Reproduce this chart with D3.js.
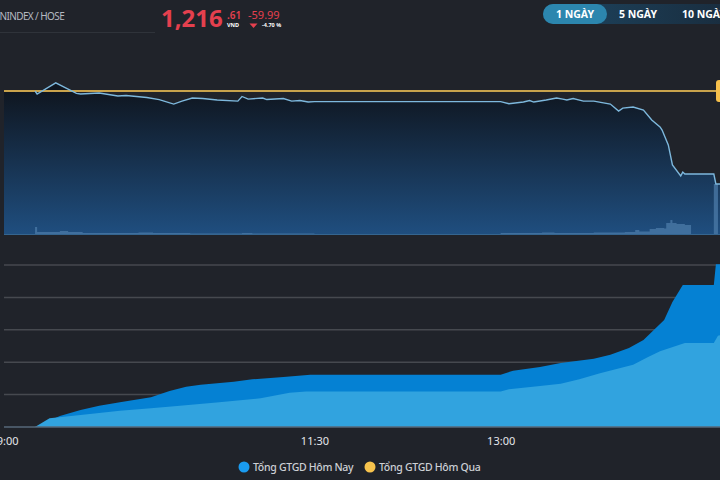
<!DOCTYPE html>
<meta charset="utf-8">
<script src="https://d3js.org/d3.v7.min.js"></script>
<body style="margin: 0; background: #20232a;">
<svg id="chart" width="720" height="480"></svg>
</body>

<style>
  text { font-family: "Noto Sans", sans-serif; }
  .axis text { fill: #e4e6ea; font-size: 11px; }
  .legend text { fill: #cdd0d5; font-size: 10.5px; font-weight: 500; letter-spacing: -0.3px; }
</style>

<script>
// price (VN-Index), time of day
var priceTimes = ["09:00","09:15","09:16","09:25","09:35","09:37","09:46","09:55","09:59","10:09","10:15","10:22","10:26","10:31","10:36","10:43","10:53","10:55","10:58","11:05","11:07","11:15","11:19","11:23","11:27","11:30",
  "13:00","13:04","13:11","13:14","13:16","13:22","13:27","13:30","13:32","13:35","13:40","13:45","13:53","13:57","13:59","14:04","14:09","14:13","14:17","14:18","14:21","14:23","14:27","14:28","14:29","14:43","14:44","15:00"];
var priceValues = [1276.6,1276.6,1274.7,1281.9,1275.1,1274.7,1275.3,1273.4,1273.7,1272.4,1271.1,1268.2,1270.1,1272.1,1271.8,1270.8,1270.1,1273.1,1271.4,1272.1,1271.1,1271.8,1270.1,1270.5,1269.5,1269.8,
  1269.8,1268.4,1269.5,1270.5,1269.5,1270.8,1272.1,1271.4,1270.8,1271.8,1270.1,1270.1,1268.2,1263.7,1265.6,1266.3,1264.3,1257.9,1253.4,1251.4,1241.8,1228.9,1221.8,1224.3,1223.0,1223.0,1216.61,1216.61];
var refPrice = 1276.60;

// matched volume (million shares)
var volTimes = ["09:00","09:15","09:16","09:27","09:31","09:38","10:05","10:12","10:30","10:55","11:00","11:30","13:00","13:20","13:26","13:45","14:00","14:05","14:07","14:12","14:15","14:19","14:20","14:22","14:23","14:25","14:29","14:32","14:43","14:45"];
var volValues = [0,7,2,3,2,1,1.5,1,0.5,1,0.5,0,1,1.5,1,1.5,2,4,2.5,5,6,5.5,11,14,11,10,9,0,50,0];

// cumulative trading value (billion VND)
var todayTimes = ["09:00","09:15","09:27","09:37","09:46","09:56","10:11","10:20","10:28","10:35","10:51","11:00","11:15","11:28","11:30","13:00","13:06","13:19","13:29","13:45","13:53","14:02","14:09","14:19","14:23","14:28","14:43","14:44","15:00"];
var todayValues = [0,0,1700,2620,3290,3810,4580,5560,6220,6530,6990,7360,7720,8070,8070,8070,8690,9260,9880,10540,11160,12190,13430,16510,19290,21910,21910,25100,25100];
var prevTimes = ["09:00","09:15","09:22","09:37","09:56","10:11","10:25","10:44","11:04","11:18","11:26","11:30","13:00","13:04","13:19","13:29","13:38","13:48","14:04","14:11","14:17","14:29","14:43","14:45","15:00"];
var prevValues = [0,0,1340,1850,2520,2890,3290,3810,4430,5290,5480,5480,5480,5820,6330,6680,7360,8290,9610,10760,11680,12960,12960,14100,14800];

var xTicks = ["09:00","11:30","13:00"];
var gridValues = [5000,10000,15000,20000,25000];
var legendNames = ["Tổng GTGD Hôm Nay","Tổng GTGD Hôm Qua"];
var legendColors = ["#1a9bf0","#f7c34d"];

var parse = d3.timeParse("%H:%M");
var svg = d3.select("#chart");

var x = d3.scaleTime().domain([parse("09:00"), parse("15:00")]).range([4, 749]);
var yPrice = d3.scaleLinear().domain([1184.3, 1296]).range([234, 61]);
var yVol = d3.scaleLinear().domain([0, 50]).range([234, 184]);
var yVal = d3.scaleLinear().domain([0, 25000]).range([427, 265]);

var price = priceTimes.map(function(t, i) { return {t: parse(t), v: priceValues[i]}; });
var vol = volTimes.map(function(t, i) { return {t: parse(t), v: volValues[i]}; });
var today = todayTimes.map(function(t, i) { return {t: parse(t), v: todayValues[i]}; });
var prev = prevTimes.map(function(t, i) { return {t: parse(t), v: prevValues[i]}; });

var defs = svg.append("defs");
var grad = defs.append("linearGradient")
    .attr("id", "priceFill")
    .attr("gradientUnits", "userSpaceOnUse")
    .attr("x1", 0).attr("y1", 91).attr("x2", 0).attr("y2", 234);
grad.append("stop").attr("offset", 0).attr("stop-color", "#0f1620");
grad.append("stop").attr("offset", 1).attr("stop-color", "#1f4e7f");

var pillGrad = defs.append("linearGradient").attr("id", "pillBg");
pillGrad.append("stop").attr("offset", 0).attr("stop-color", "#1d4560");
pillGrad.append("stop").attr("offset", 1).attr("stop-color", "#192b3c");

defs.append("clipPath").attr("id", "clipTop")
  .append("rect").attr("x", 4).attr("y", 40).attr("width", 716).attr("height", 194);

// ---------- header ----------
svg.append("text").attr("x", -6).attr("y", 20)
    .attr("fill", "#b5b9c1").style("font-size", "10px").style("letter-spacing", "-0.6px")
    .text("VNINDEX / HOSE");
svg.append("line").attr("x1", 0).attr("x2", 155).attr("y1", 32.5).attr("y2", 32.5)
    .attr("stroke", "#2f333a");

svg.append("text").attr("x", 161).attr("y", 27)
    .attr("fill", "#e5404e").style("font-size", "24px").style("font-weight", 700)
    .text("1,216");
svg.append("text").attr("x", 227).attr("y", 19)
    .attr("fill", "#e5404e").style("font-size", "10px").style("font-weight", 600)
    .text(".61");
svg.append("text").attr("x", 227).attr("y", 26.5)
    .attr("fill", "#ffffff").style("font-size", "5.5px").style("font-weight", 700)
    .text("VND");
svg.append("text").attr("x", 248).attr("y", 19)
    .attr("fill", "#e5404e").style("font-size", "11px")
    .text("-59.99");
svg.append("path").attr("d", "M249.5,23.5L257.5,23.5L253.5,28Z").attr("fill", "#e5404e");
svg.append("text").attr("x", 262).attr("y", 27)
    .attr("fill", "#ffffff").style("font-size", "5.5px").style("font-weight", 700)
    .text("-4.70 %");

svg.append("rect").attr("x", 543).attr("y", 4).attr("width", 200).attr("height", 20)
    .attr("rx", 10).attr("fill", "url(#pillBg)");
svg.append("rect").attr("x", 543).attr("y", 4).attr("width", 64).attr("height", 20)
    .attr("rx", 10).attr("fill", "#2c86ae");
var btns = [["1 NGÀY", 575], ["5 NGÀY", 638], ["10 NGÀY", 704]];
svg.selectAll(".btn").data(btns).join("text")
    .attr("class", "btn")
    .attr("x", function(d) { return d[1]; }).attr("y", 18)
    .attr("text-anchor", "middle")
    .attr("fill", "#ffffff").style("font-size", "10.5px").style("font-weight", 700)
    .text(function(d) { return d[0]; });

// ---------- price panel ----------
var pricePanel = svg.append("g").attr("clip-path", "url(#clipTop)");

pricePanel.append("path").datum(price)
    .attr("fill", "url(#priceFill)")
    .attr("d", d3.area().x(function(d) { return x(d.t); }).y0(234).y1(function(d) { return yPrice(d.v); }));

pricePanel.append("path").datum(vol)
    .attr("fill", "#4c7ba8").attr("fill-opacity", 0.75)
    .attr("d", d3.area().curve(d3.curveStepAfter)
      .x(function(d) { return x(d.t); }).y0(yVol(0)).y1(function(d) { return yVol(d.v); }));

pricePanel.append("line")
    .attr("x1", 4).attr("x2", 720).attr("y1", yPrice(refPrice)).attr("y2", yPrice(refPrice))
    .attr("stroke", "#c9a34c").attr("stroke-width", 2);

pricePanel.append("path").datum(price.filter(function(d) { return d.t >= parse("09:15"); }))
    .attr("fill", "none").attr("stroke", "#7db8dd").attr("stroke-width", 1.4)
    .attr("d", d3.line().x(function(d) { return x(d.t); }).y(function(d) { return yPrice(d.v); }));

svg.append("line").attr("x1", 4).attr("x2", 720).attr("y1", 234.5).attr("y2", 234.5)
    .attr("stroke", "#35658f");

svg.append("rect").attr("x", 716).attr("y", yPrice(refPrice) - 11).attr("width", 12).attr("height", 22)
    .attr("rx", 3).attr("fill", "#f6c04c");

// ---------- trading value panel ----------
svg.append("g").selectAll("line").data(gridValues).join("line")
    .attr("x1", 4).attr("x2", 720)
    .attr("y1", function(d) { return yVal(d); }).attr("y2", function(d) { return yVal(d); })
    .attr("stroke", "#46494f").attr("stroke-width", 1.5);

svg.append("path").datum(today)
    .attr("fill", "#0581d3")
    .attr("d", d3.area().x(function(d) { return x(d.t); }).y0(yVal(0)).y1(function(d) { return yVal(d.v); }));
svg.append("path").datum(prev)
    .attr("fill", "#31a3df")
    .attr("d", d3.area().x(function(d) { return x(d.t); }).y0(yVal(0)).y1(function(d) { return yVal(d.v); }));

svg.append("line").attr("x1", 4).attr("x2", 720).attr("y1", yVal(0)).attr("y2", yVal(0))
    .attr("stroke", "#56697a").attr("stroke-width", 1.5);

var xAxis = svg.append("g").attr("class", "axis")
    .attr("transform", "translate(0," + 428 + ")")
    .call(d3.axisBottom(x).tickValues(xTicks.map(parse)).tickFormat(d3.timeFormat("%H:%M")).tickSize(0).tickPadding(9));
xAxis.select(".domain").remove();
xAxis.selectAll("text").style("font-family", "'Noto Sans', sans-serif").style("font-size", "11px").attr("fill", "#e4e6ea");

// ---------- legend ----------
var legend = svg.append("g").attr("class", "legend");
var legendX = [244, 370];
legendNames.forEach(function(name, i) {
  legend.append("circle").attr("cx", legendX[i]).attr("cy", 467).attr("r", 5.5).attr("fill", legendColors[i]);
  legend.append("text").attr("x", legendX[i] + 9).attr("y", 471).text(name);
});
</script>
